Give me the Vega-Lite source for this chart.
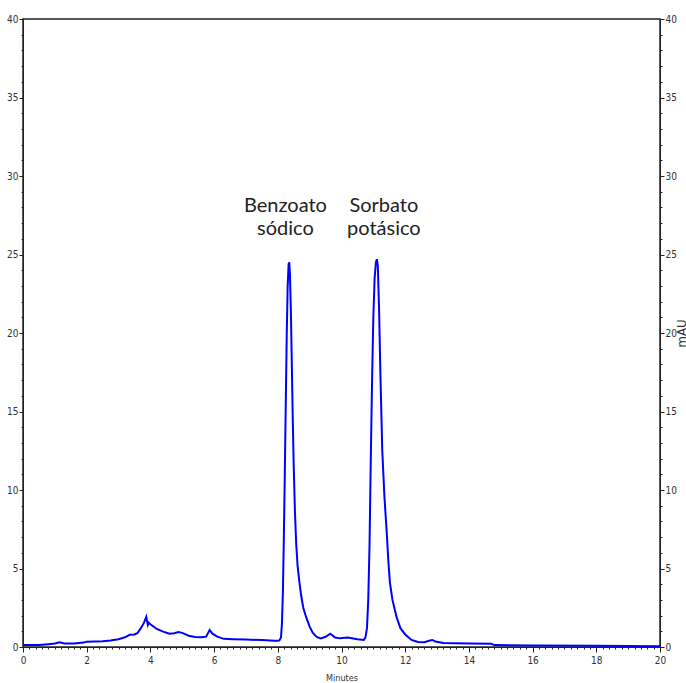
{
  "$schema": "https://vega.github.io/schema/vega-lite/v6.json",
  "width": 637,
  "height": 628,
  "autosize": {"type": "none"},
  "padding": {"left": 23, "top": 19, "right": 26, "bottom": 36},
  "background": "white",
  "config": {
    "view": {"stroke": "#222", "strokeWidth": 1.5},
    "axis": {
      "labelFont": "DejaVu Sans Condensed, Liberation Sans, sans-serif",
      "labelFontSize": 10,
      "labelColor": "#333",
      "domainColor": "#222",
      "tickColor": "#222",
      "grid": false,
      "labelOverlap": false,
      "titleFont": "DejaVu Sans Condensed, Liberation Sans, sans-serif",
      "titleFontWeight": "normal",
      "titleColor": "#333"
    }
  },
  "datasets": {
    "trace": [
      {"t": 0.0, "v": 0.12}, {"t": 0.5, "v": 0.12}, {"t": 0.8, "v": 0.18}, {"t": 1.0, "v": 0.22},
      {"t": 1.15, "v": 0.3}, {"t": 1.3, "v": 0.22}, {"t": 1.6, "v": 0.22}, {"t": 1.9, "v": 0.28},
      {"t": 2.0, "v": 0.34}, {"t": 2.5, "v": 0.37}, {"t": 2.75, "v": 0.42}, {"t": 3.0, "v": 0.5},
      {"t": 3.2, "v": 0.62}, {"t": 3.35, "v": 0.78}, {"t": 3.5, "v": 0.8}, {"t": 3.6, "v": 0.9},
      {"t": 3.7, "v": 1.2}, {"t": 3.8, "v": 1.55}, {"t": 3.87, "v": 1.92}, {"t": 3.92, "v": 1.4},
      {"t": 3.95, "v": 1.55}, {"t": 4.0, "v": 1.45}, {"t": 4.2, "v": 1.15}, {"t": 4.4, "v": 0.98},
      {"t": 4.6, "v": 0.85}, {"t": 4.75, "v": 0.88}, {"t": 4.88, "v": 0.96}, {"t": 5.0, "v": 0.9},
      {"t": 5.2, "v": 0.72}, {"t": 5.4, "v": 0.64}, {"t": 5.6, "v": 0.62}, {"t": 5.75, "v": 0.66},
      {"t": 5.86, "v": 1.08}, {"t": 5.95, "v": 0.85}, {"t": 6.1, "v": 0.66}, {"t": 6.3, "v": 0.52},
      {"t": 6.6, "v": 0.5}, {"t": 7.0, "v": 0.47}, {"t": 7.5, "v": 0.44}, {"t": 7.9, "v": 0.4},
      {"t": 8.0, "v": 0.4}, {"t": 8.05, "v": 0.42}, {"t": 8.1, "v": 0.6}, {"t": 8.13, "v": 1.5},
      {"t": 8.16, "v": 3.5}, {"t": 8.19, "v": 7.0}, {"t": 8.22, "v": 11.0}, {"t": 8.25, "v": 15.5},
      {"t": 8.28, "v": 19.8}, {"t": 8.31, "v": 23.0}, {"t": 8.34, "v": 24.4}, {"t": 8.36, "v": 24.5},
      {"t": 8.38, "v": 23.8}, {"t": 8.41, "v": 21.5}, {"t": 8.44, "v": 18.0}, {"t": 8.47, "v": 14.5},
      {"t": 8.5, "v": 11.5}, {"t": 8.54, "v": 8.5}, {"t": 8.58, "v": 6.5}, {"t": 8.62, "v": 5.2},
      {"t": 8.68, "v": 4.1}, {"t": 8.74, "v": 3.2}, {"t": 8.8, "v": 2.5}, {"t": 8.89, "v": 1.9},
      {"t": 9.0, "v": 1.3}, {"t": 9.1, "v": 0.9}, {"t": 9.22, "v": 0.64}, {"t": 9.35, "v": 0.55},
      {"t": 9.5, "v": 0.65}, {"t": 9.65, "v": 0.85}, {"t": 9.8, "v": 0.6}, {"t": 9.95, "v": 0.55},
      {"t": 10.2, "v": 0.6}, {"t": 10.5, "v": 0.5}, {"t": 10.7, "v": 0.45}, {"t": 10.75, "v": 0.6},
      {"t": 10.8, "v": 1.2}, {"t": 10.84, "v": 3.0}, {"t": 10.88, "v": 6.5}, {"t": 10.92, "v": 12.0},
      {"t": 10.96, "v": 17.0}, {"t": 11.0, "v": 21.0}, {"t": 11.04, "v": 23.5}, {"t": 11.08, "v": 24.5},
      {"t": 11.11, "v": 24.7}, {"t": 11.14, "v": 24.3}, {"t": 11.18, "v": 21.5}, {"t": 11.22, "v": 17.5},
      {"t": 11.28, "v": 12.5}, {"t": 11.35, "v": 9.5}, {"t": 11.42, "v": 7.3}, {"t": 11.47, "v": 5.5},
      {"t": 11.52, "v": 4.1}, {"t": 11.6, "v": 3.0}, {"t": 11.73, "v": 1.9}, {"t": 11.85, "v": 1.2},
      {"t": 12.0, "v": 0.8}, {"t": 12.09, "v": 0.64}, {"t": 12.2, "v": 0.45}, {"t": 12.4, "v": 0.32},
      {"t": 12.6, "v": 0.3}, {"t": 12.75, "v": 0.4}, {"t": 12.85, "v": 0.45}, {"t": 12.95, "v": 0.35},
      {"t": 13.2, "v": 0.25}, {"t": 14.0, "v": 0.22}, {"t": 14.7, "v": 0.2}, {"t": 14.8, "v": 0.12},
      {"t": 16.0, "v": 0.1}, {"t": 18.0, "v": 0.08}, {"t": 20.0, "v": 0.05}
    ],
    "labels": [
      {"t": 8.24, "v": 27.7, "label": ["Benzoato", "sódico"]},
      {"t": 11.33, "v": 27.7, "label": ["Sorbato", "potásico"]}
    ]
  },
  "encoding": {
    "x": {
      "field": "t", "type": "quantitative",
      "scale": {"domain": [0, 20], "nice": false, "zero": false},
      "axis": {
        "title": "Minutes",
        "titleFontSize": 9,
        "titlePadding": 8,
        "labelOverlap": false,
        "labelBound": false,
        "values": [0,0.2,0.4,0.6,0.8,1,1.2,1.4,1.6,1.8,2,2.2,2.4,2.6,2.8,3,3.2,3.4,3.6,3.8,4,4.2,4.4,4.6,4.8,5,5.2,5.4,5.6,5.8,6,6.2,6.4,6.6,6.8,7,7.2,7.4,7.6,7.8,8,8.2,8.4,8.6,8.8,9,9.2,9.4,9.6,9.8,10,10.2,10.4,10.6,10.8,11,11.2,11.4,11.6,11.8,12,12.2,12.4,12.6,12.8,13,13.2,13.4,13.6,13.8,14,14.2,14.4,14.6,14.8,15,15.2,15.4,15.6,15.8,16,16.2,16.4,16.6,16.8,17,17.2,17.4,17.6,17.8,18,18.2,18.4,18.6,18.8,19,19.2,19.4,19.6,19.8,20],
        "labelExpr": "abs(datum.value/2 - round(datum.value/2)) < 0.01 ? format(datum.value, 'd') : ''",
        "tickSize": {"condition": {"test": "abs(datum.value/2 - round(datum.value/2)) < 0.01", "value": 5}, "value": 2},
        "labelPadding": 3,
        "labelFlush": false
      }
    }
  },
  "layer": [
    {
      "data": {"name": "trace"},
      "mark": {"type": "line", "color": "#0000FF", "strokeWidth": 2, "clip": true},
      "encoding": {
        "y": {
          "field": "v", "type": "quantitative",
          "scale": {"domain": [0, 40], "nice": false},
          "axis": {
            "orient": "left",
            "title": null,
            "labelOverlap": false,
            "values": [0,1,2,3,4,5,6,7,8,9,10,11,12,13,14,15,16,17,18,19,20,21,22,23,24,25,26,27,28,29,30,31,32,33,34,35,36,37,38,39,40],
            "labelExpr": "datum.value % 5 === 0 ? datum.label : ''",
            "tickSize": {"condition": {"test": "datum.value % 5 === 0", "value": 4}, "value": 2},
            "labelPadding": 1,
            "labelFlush": false
          }
        }
      }
    },
    {
      "data": {"name": "trace"},
      "mark": {"type": "line", "color": "#0000FF", "strokeWidth": 2, "opacity": 0},
      "encoding": {
        "y": {
          "field": "v", "type": "quantitative",
          "axis": {
            "orient": "right",
            "title": "mAU",
            "titleFontSize": 13,
            "titleAngle": 270,
            "titlePadding": 12,
            "labelOverlap": false,
            "values": [0,1,2,3,4,5,6,7,8,9,10,11,12,13,14,15,16,17,18,19,20,21,22,23,24,25,26,27,28,29,30,31,32,33,34,35,36,37,38,39,40],
            "labelExpr": "datum.value % 5 === 0 ? datum.label : ''",
            "tickSize": {"condition": {"test": "datum.value % 5 === 0", "value": 4}, "value": 2},
            "labelPadding": 1,
            "labelFlush": false
          }
        }
      }
    },
    {
      "data": {"name": "labels"},
      "mark": {"type": "text", "font": "Lato", "fontSize": 20, "lineHeight": 23, "align": "center", "baseline": "alphabetic", "color": "#222"},
      "encoding": {
        "y": {"field": "v", "type": "quantitative", "axis": null},
        "text": {"field": "label"}
      }
    }
  ],
  "resolve": {"axis": {"y": "independent"}}
}
